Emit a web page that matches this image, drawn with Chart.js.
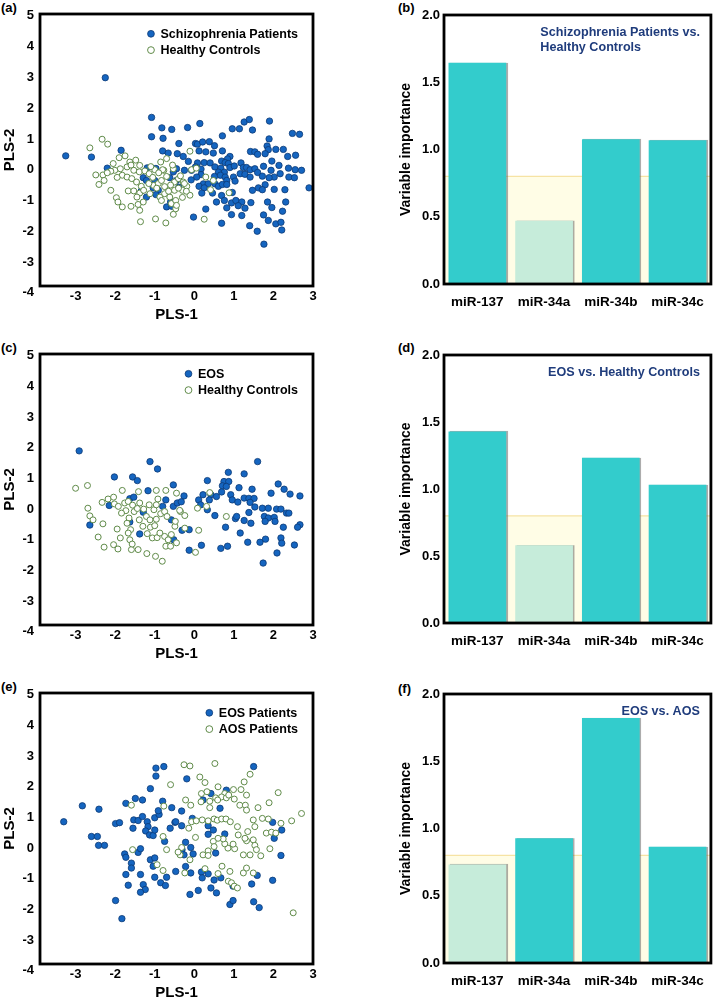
<!DOCTYPE html>
<html>
<head>
<meta charset="utf-8">
<script src="https://cdn.jsdelivr.net/npm/chart.js@4.4.0/dist/chart.umd.min.js"></script>
<style>
body{margin:0;background:#fff;width:714px;height:1000px;position:relative;overflow:hidden;font-family:"Liberation Sans",Arial,sans-serif;}
canvas{position:absolute;}
.panel{position:absolute;font-weight:bold;font-size:13px;color:#000;line-height:15px;}
</style>
</head>
<body>
<div class="panel" style="left:1px;top:0px">(a)</div>
<div class="panel" style="left:398px;top:0px">(b)</div>
<div class="panel" style="left:1px;top:340px">(c)</div>
<div class="panel" style="left:398px;top:340px">(d)</div>
<div class="panel" style="left:1px;top:679px">(e)</div>
<div class="panel" style="left:398px;top:681px">(f)</div>

<canvas id="plsA" width="330" height="330" style="left:0;top:0"></canvas>
<canvas id="vipB" width="374" height="328" style="left:340px;top:0"></canvas>
<canvas id="plsC" width="330" height="329" style="left:0;top:340px"></canvas>
<canvas id="vipD" width="374" height="327" style="left:340px;top:340px"></canvas>
<canvas id="plsE" width="330" height="329" style="left:0;top:679px"></canvas>
<canvas id="vipF" width="374" height="328" style="left:340px;top:679px"></canvas>

<script>
//-------------datos-----------------//
const plsTicksX = [-3,-2,-1,0,1,2,3];
const plsTicksY = [-4,-3,-2,-1,0,1,2,3,4,5];
const vipTicks = [0,0.5,1,1.5,2];
const mirnas = ['miR-137','miR-34a','miR-34b','miR-34c'];
const corteVip = 0.8;

// (b) (d) (f)
const vipSzHc = [1.645, 0.47, 1.076, 1.068];
const vipEosHc = [1.43, 0.58, 1.234, 1.032];
const vipEosAos = [0.733, 0.927, 1.821, 0.864];

const tituloB = ['Schizophrenia Patients vs.','Healthy Controls'];
const tituloD = ['EOS vs. Healthy Controls'];
const tituloF = ['EOS vs. AOS'];

// (a) Schizophrenia Patients / Healthy Controls
const szPacientes = [
[-2.25,2.99],[-3.25,0.45],[-2.60,0.41],[-2.20,0.05],[-1.85,0.63],
[-1.08,1.70],[-0.82,1.36],[-0.57,1.31],[-1.08,1.07],[-0.79,1.02],
[-0.39,0.85],[-0.80,0.61],[-0.66,0.54],[-0.43,0.52],
[-1.19,0.06],[-0.97,0.04],[-0.45,0.03],[-0.53,-0.07],
[-1.29,-0.26],[-1.21,-0.35],[-1.00,-0.35],[-0.62,-0.26],[-0.45,-0.35],
[-1.04,-0.59],[-0.91,-0.67],[-1.34,-0.69],[-1.21,-0.89],[-0.97,-0.81],
[-0.70,-1.21],[-0.57,-1.19],[-0.60,-1.05],
[0.14,1.50],[-0.17,1.37],[1.26,1.55],[1.39,1.63],[1.90,1.58],[0.96,1.33],[1.14,1.33],[1.47,1.29],[0.71,1.10],[2.48,1.18],[2.66,1.15],
[0.03,0.85],[0.08,0.83],[0.21,0.90],[0.38,0.91],[0.51,0.78],[1.89,1.00],[1.84,0.77],[1.87,0.65],[2.06,0.66],[2.25,0.66],[2.56,0.47],[2.36,0.43],[1.42,0.59],[1.53,0.58],[1.60,0.50],
[-0.28,0.43],[0.12,0.61],[0.29,0.58],[0.48,0.54],[0.71,0.61],[0.90,0.43],[0.84,0.35],[0.69,0.28],[0.78,0.23],[0.86,0.20],[1.79,0.52],[1.96,0.28],[2.14,0.14],[2.38,0.05],[2.55,0.00],[2.71,-0.02],
[-0.15,0.27],[0.08,0.22],[0.25,0.23],[0.40,0.22],[0.03,0.09],[0.17,0.02],[-0.25,-0.02],[-0.07,-0.02],[0.17,-0.16],[0.06,-0.24],[-0.08,-0.33],
[0.52,0.09],[0.67,0.05],[0.61,-0.08],[0.76,-0.08],[0.90,0.07],[1.01,0.12],[1.18,0.22],[1.24,0.07],[1.32,0.07],[1.41,0.00],[1.53,0.03],[1.60,-0.09],[1.75,0.11],[1.94,-0.02],[2.02,-0.24],
[0.51,-0.22],[0.66,-0.18],[0.78,-0.24],[0.82,-0.35],[0.99,-0.24],[1.03,-0.37],[1.16,-0.13],[1.28,-0.15],[1.41,-0.24],[1.72,-0.21],[1.89,-0.26],[2.17,-0.13],[2.39,-0.24],[2.53,-0.26],
[0.23,-0.46],[0.35,-0.46],[0.52,-0.46],[0.61,-0.54],[0.71,-0.48],[0.82,-0.48],[0.12,-0.54],[0.25,-0.59],[-0.39,-0.57],
[1.47,-0.67],[1.62,-0.59],[1.79,-0.49],[1.72,-0.65],[2.02,-0.64],[2.29,-0.65],[2.90,-0.59],
[0.19,-0.76],[0.46,-0.76],[0.69,-0.84],[0.96,-0.74],
[0.56,-1.05],[0.76,-1.00],[0.94,-1.08],[1.05,-1.00],[1.20,-1.05],[1.43,-1.07],
[0.29,-1.28],[0.82,-1.24],[1.11,-1.17],[1.28,-1.25],[1.85,-1.05],[1.96,-1.23],[2.31,-1.05],[2.23,-1.35],
[-0.02,-1.54],[0.94,-1.46],[1.20,-1.49],[1.75,-1.47],[1.87,-1.65],[2.06,-1.76],[2.19,-1.71],[2.21,-1.96],
[0.69,-1.74],[1.40,-1.82],[1.59,-2.00],[1.76,-2.42]
];
const szControles = [
[-2.33,0.99],[-2.19,0.83],[-2.64,0.71],[-1.90,0.39],[-2.49,-0.17],[-2.41,-0.48],[-2.31,-0.17],[-2.28,-0.35],[-2.11,-0.67],[-1.97,-0.91],[-1.93,-1.05],[-1.82,-1.21],[-1.60,-1.19],[-1.36,-1.69],[-0.98,-1.60],[-0.72,-1.73],[-1.38,-1.32],[-1.42,-1.13],[-1.29,-1.05],
[-1.48,0.31],[-1.63,0.25],[-1.70,0.09],[-1.87,0.03],[-2.01,-0.02],[-2.11,-0.05],[-1.82,-0.18],[-1.70,-0.24],[-1.58,-0.29],[-1.53,-0.02],[-1.39,-0.07],[-1.38,0.14],[-1.25,-0.04],[-1.14,-0.13],[-1.46,-0.40],[-1.34,-0.54],[-1.67,-0.69],[-1.53,-0.69],[-1.38,-0.76],[-1.28,-0.67],[-1.45,-0.89],[-1.12,-0.78],[-1.03,-0.51],[-0.91,-0.45],[-0.83,-0.35],[-0.70,-0.22],[-0.77,-0.02],[-0.87,-0.89],[-0.75,-0.78],[-0.62,-0.89],[-0.83,-1.00],[-0.58,-1.10],[-0.47,-1.27],[-0.53,-1.45],[-0.70,0.36],[-0.80,0.00],[-0.50,-0.40],[-0.50,-0.67],[-0.47,-1.00],
[-0.11,0.60],[0.25,-1.61],[0.88,-0.75],[0.41,-0.65],[-0.11,-0.83],[-0.53,0.03],
[-0.40,-0.29],[-0.28,-0.40],[-0.19,-0.54],[-0.45,-1.16],[0.29,-0.24],[0.48,-0.35],[-0.30,-0.67],
[-1.00,0.00],[-0.90,-0.10],[-0.60,-0.50],[-0.40,-0.60],[-0.35,-0.20],[-0.25,-0.45],[-1.15,-0.45],[-1.05,-0.25],[-0.95,-0.60],[-0.75,-0.55],[-0.65,-0.70],[-0.30,-0.90],[-0.20,-0.70],
[-2.05,0.20],[-1.75,0.45],[-1.60,0.15],[-1.95,-0.25],[-2.20,-0.10],[-1.10,0.10],[-0.85,0.25],[-0.55,0.15],[-0.07,0.00],[0.05,0.05]
];

// (c) EOS / Healthy Controls
const eosPacientes = [
[-2.91,1.90],[-1.12,1.55],[-0.93,1.31],[-2.02,1.05],[-1.56,1.05],[-1.44,0.93],[-1.17,0.60],[-1.63,0.34],[-1.53,0.39],[-2.15,0.12],[-1.29,-0.10],[-1.63,-0.42],[-2.64,-0.52],[-1.38,-0.81],[-0.72,0.30],[-0.80,0.09],[-0.53,0.09],[-0.58,-0.35],[-0.52,-1.00],[-0.53,0.79],[-0.43,0.20],
[-0.26,0.43],[-0.33,0.24],[-0.31,-0.69],[-0.13,-0.67],[-0.13,-1.34],[0.18,-1.18],[0.11,0.30],[0.16,0.14],[0.33,-0.02],[0.22,0.47],
[1.60,1.55],[0.86,1.20],[1.26,1.15],[0.33,0.93],[0.75,0.90],[0.87,0.90],[0.71,0.76],[0.81,0.74],[1.13,0.70],[1.46,0.65],[2.12,0.82],[2.27,0.65],[2.42,0.49],[2.67,0.43],[1.94,0.52],[0.69,0.56],[0.42,0.47],[0.56,0.41],[0.38,0.30],[0.92,0.47],[0.96,0.30],[1.10,0.23],[1.26,0.36],[1.38,0.35],[1.51,0.35],[1.41,0.22],[1.53,0.07],[1.72,0.03],[1.87,0.03],[2.08,0.00],[2.19,0.00],[2.33,-0.13],[2.39,-0.13],[1.38,-0.11],[1.77,-0.24],[1.87,-0.29],[1.79,-0.40],[2.02,-0.27],[2.04,-0.40],[1.26,-0.37],[1.43,-0.46],[1.04,-0.31],[1.07,-0.24],[0.52,-0.21],[0.79,-0.59],[1.16,-0.78],[2.25,-0.59],[2.67,-0.51],[2.61,-0.59],[1.80,-0.98],[2.19,-0.94],[2.21,-1.11],[1.35,-1.08],[1.66,-1.08],[2.53,-1.17],[2.09,-1.43],[1.74,-1.76],[0.67,-1.28],[0.84,-1.21]
];
const eosControles = [
[-3.00,0.68],[-2.70,0.77],[-2.69,0.03],[-2.64,-0.22],[-2.56,-0.35],[-2.43,-0.91],[-2.31,-0.48],[-2.28,-1.24],[-2.33,0.22],[-2.18,0.33],[-2.04,0.39],[-2.02,0.17],[-1.92,0.09],[-1.82,0.61],[-1.95,-0.65],[-1.87,-0.94],[-2.04,-1.16],[-1.93,-1.30],[-1.63,-1.00],[-1.59,-1.32],[-1.42,-1.32],[-1.20,-1.45],[-0.98,-1.54],[-0.81,-1.70],[-1.57,-1.14],
[-1.76,0.20],[-1.67,0.25],[-1.56,0.13],[-1.73,-0.05],[-1.65,-0.29],[-1.52,-0.08],[-1.44,0.02],[-1.38,0.20],[-1.84,-0.13],[-1.70,-0.46],[-1.61,-0.67],[-1.67,-0.78],[-1.41,0.57],[-1.28,0.00],[-1.14,0.14],[-1.02,-0.02],[-0.96,0.14],[-0.92,0.33],[-0.96,0.61],[-0.72,0.61],
[-1.21,-0.24],[-1.39,-0.35],[-1.30,-0.56],[-1.12,-0.35],[-1.11,-0.59],[-1.00,-0.54],[-0.96,-0.33],[-0.85,-0.15],[-0.75,-0.08],[-0.69,-0.24],[-1.19,-0.80],[-1.06,-0.94],[-0.94,-0.93],[-0.87,-0.78],[-0.75,-0.89],[-0.66,-1.00],[-0.72,-1.21],[-0.60,-1.21],[-0.58,-0.83],[-0.49,-0.56],[-0.45,0.52],
[-0.35,-0.08],[-0.24,-0.21],[-0.48,-0.40],[0.11,-0.69],[0.03,-1.41],[0.08,0.03],[0.39,0.54],[0.31,0.09],[0.81,-0.24],[-0.45,-1.10],[-0.37,-0.04],[-0.24,-0.62]
];

// (e) EOS Patients / AOS Patients
const eosPac2 = [
[-0.97,2.61],[-0.77,2.66],[-0.97,2.35],[-1.11,1.94],[-2.83,1.38],[-2.41,1.27],[-1.73,1.46],[-1.49,1.62],[-1.31,1.57],[-3.30,0.86],[-1.99,0.80],[-1.89,0.83],[-1.53,0.92],[-1.42,0.90],[-1.31,1.03],[-1.19,0.86],[-1.17,0.70],[-1.00,0.99],[-0.89,1.10],[-0.91,1.22],[-1.55,0.65],[-1.23,0.56],[-1.13,0.43],[-1.04,0.41],[-1.00,0.59],[-0.80,1.53],[-0.57,1.32],[-0.61,0.65],[-0.49,0.84],
[-2.60,0.38],[-2.45,0.38],[-2.42,0.09],[-2.27,0.09],[-1.76,-0.19],[-1.73,-0.30],[-1.42,-0.14],[-1.36,-0.02],[-1.59,-0.49],[-1.59,-0.65],[-1.73,-0.86],[-1.36,-0.86],[-1.11,-0.38],[-1.00,-0.32],[-1.04,-0.59],[-1.00,-0.95],[-1.67,-1.21],[-1.29,-1.19],[-1.24,-1.35],[-1.36,-1.44],[-0.85,-1.13],[-0.70,-0.95],[-0.73,-1.22],[-0.75,0.22],[-0.47,-0.76],[-1.99,-1.71],[-1.83,-2.30],
[1.50,2.66],[-0.19,2.26],[0.81,1.89],[0.42,1.78],[0.22,1.57],[0.65,1.30],[-0.32,1.21],[-0.47,0.86],[-0.32,0.73],[-0.05,0.97],[0.35,0.73],[0.48,0.59],[0.35,0.45],[0.77,0.46],[1.98,0.84],[2.21,0.59],[2.02,0.32],[2.19,-0.24],
[-0.22,0.19],[-0.09,0.02],[-0.31,-0.05],[-0.26,-0.22],[-0.03,-0.19],[0.54,-0.16],[-0.22,-0.60],[-0.09,-0.81],[0.18,-0.78],[0.35,-0.84],[0.20,-0.97],[0.50,-1.04],[0.67,-0.97],[0.98,-1.24],[1.45,-1.17],[1.59,-0.89],[1.98,-1.05],
[-0.11,-1.51],[0.10,-1.38],[0.42,-1.30],[0.56,-1.46],[0.90,-1.84],[0.98,-1.71],[1.50,-1.75],[1.64,-1.94]
];
const aosPac = [
[-0.26,2.72],[-0.11,2.68],[0.52,2.76],[0.14,2.32],[0.27,2.14],[1.41,2.41],[1.26,2.16],[0.60,2.00],[2.12,1.81],[0.18,1.78],[0.32,1.84],[0.77,1.78],[0.99,1.91],[1.18,1.91],[1.32,1.73],[0.54,1.64],[0.69,1.67],[0.81,1.64],[0.87,1.73],[0.17,1.51],[0.39,1.53],[0.59,1.57],[0.39,1.32],[1.01,1.60],[1.15,1.40],[1.29,1.40],[1.32,1.24],[1.61,1.32],[1.89,1.48],[-0.22,1.57],[-0.09,1.40],
[2.46,0.89],[2.71,1.13],[2.19,0.81],[1.87,0.95],[1.72,0.97],[1.49,0.92],[1.53,0.70],[1.35,0.54],[1.82,0.49],[1.95,0.52],[2.06,0.49],[1.91,-0.02],[1.32,0.24],[1.49,0.27],[1.53,0.09],[1.57,-0.05],[1.68,-0.25],[1.41,-0.22],[1.24,-0.22],[1.02,-0.02],[0.98,0.13],[0.85,0.00],[0.77,0.14],[0.73,0.30],[0.60,0.32],[0.48,0.22],[0.50,0.05],[0.35,-0.09],[0.22,-0.22],[0.35,-0.24],
[-0.07,0.86],[-0.14,0.65],[0.05,0.89],[0.20,0.92],[0.35,0.89],[0.50,0.95],[0.58,0.91],[0.69,0.95],[0.80,0.95],[0.91,0.86],[1.09,0.70],[1.28,0.32],[1.11,0.43],[0.03,0.35],[-0.32,0.02],[-0.36,-0.22],[-0.11,-0.38],[-0.24,-0.81],[0.27,-0.67],[0.70,-0.59],[0.90,-0.76],[1.24,-0.81],[1.32,-0.65],[1.49,-0.81],[0.60,-0.83],[0.86,-1.08],[0.94,-1.13],[1.01,-1.24],[1.09,-1.30],[2.50,-2.11],
[-0.60,2.07],[-1.59,1.40],[-0.77,1.37],[-0.79,0.38],[-0.70,-0.05],[-1.56,-0.05],[-0.94,-0.54],[-0.79,-0.73],[-0.41,-0.13]
];

//-------------estilos-----------------//
const fuente = '"Liberation Sans", Arial, sans-serif';
Chart.defaults.font.family = fuente;
Chart.defaults.font.weight = 'bold';
Chart.defaults.color = '#000';

const azul = '#1565c0';
const azulBorde = '#0c3a75';
const verde = '#5f8a48';
const turquesa = '#33cccc';
const menta = '#c6ecda';

function aPuntos(arr){
	return arr.map(p => ({x: p[0], y: p[1]}));
}

// marco negro alrededor del area
const marco = {
	id: 'marco',
	afterDraw(chart){
		const a = chart.chartArea, c = chart.ctx;
		c.save();
		c.lineWidth = 2.8;
		c.strokeStyle = '#000';
		c.strokeRect(a.left, a.top, a.right - a.left, a.bottom - a.top);
		c.restore();
	}
};

// leyenda dentro del grafico
const leyenda = {
	id: 'leyenda',
	afterDraw(chart){
		const a = chart.chartArea, c = chart.ctx;
		const sets = chart.data.datasets;
		c.save();
		c.font = 'bold 12.5px ' + fuente;
		let maxW = 0;
		sets.forEach(d => { maxW = Math.max(maxW, c.measureText(d.label).width); });
		const xt = a.right - 15 - maxW;
		sets.forEach((d, i) => {
			const y = a.top + 19.8 + i * 16.3;
			c.beginPath();
			c.arc(xt - 9.5, y, 3.4, 0, Math.PI * 2);
			c.fillStyle = d.backgroundColor;
			c.fill();
			c.lineWidth = d.borderWidth;
			c.strokeStyle = d.borderColor;
			c.stroke();
			c.fillStyle = '#000';
			c.textBaseline = 'middle';
			c.textAlign = 'left';
			c.fillText(d.label, xt, y + 0.5);
		});
		c.restore();
	}
};

// zona amarilla bajo el corte y sombra de barras
const banda = {
	id: 'banda',
	beforeDatasetsDraw(chart){
		const a = chart.chartArea, c = chart.ctx;
		const y = chart.scales.y.getPixelForValue(corteVip);
		c.save();
		c.fillStyle = '#fffde6';
		c.fillRect(a.left, y, a.right - a.left, a.bottom - y);
		c.strokeStyle = '#f6e3a4';
		c.lineWidth = 1.2;
		c.beginPath();
		c.moveTo(a.left, y);
		c.lineTo(a.right, y);
		c.stroke();
		c.restore();
		c.save();
		c.shadowColor = 'rgba(90,90,90,0.5)';
		c.shadowOffsetX = 1.5;
		c.shadowOffsetY = 0;
		c.shadowBlur = 0.6;
	},
	afterDatasetsDraw(chart){
		chart.ctx.restore();
	}
};

const rotulo = {
	id: 'rotulo',
	afterDraw(chart, args, opts){
		const a = chart.chartArea, c = chart.ctx;
		c.save();
		c.font = 'bold 12.6px ' + fuente;
		c.fillStyle = '#1f3c7c';
		c.textBaseline = 'middle';
		c.textAlign = 'left';
		let maxW = 0;
		opts.lineas.forEach(t => { maxW = Math.max(maxW, c.measureText(t).width); });
		const x = a.right - 11 - maxW;
		opts.lineas.forEach((t, i) => {
			c.fillText(t, x, a.top + 17.7 + i * 15);
		});
		c.restore();
	}
};

function crearDispersion(id, pacientes, controles, nombres){
	const ctx = document.getElementById(id).getContext('2d');
	return new Chart(ctx, {
		type: 'scatter',
		data: {
			datasets: [
				{label: nombres[0], data: aPuntos(pacientes), backgroundColor: azul, borderColor: azulBorde, borderWidth: 0.8, pointRadius: 3.2, order: 2},
				{label: nombres[1], data: aPuntos(controles), backgroundColor: '#ffffff', borderColor: verde, borderWidth: 1, pointRadius: 3, order: 1}
			]
		},
		options: {
			responsive: false,
			animation: false,
			events: [],
			layout: {padding: {top: 14, right: 17, left: 0, bottom: 0}},
			plugins: {legend: {display: false}, tooltip: {enabled: false}},
			scales: {
				x: {
					type: 'linear', min: -3.9, max: 3.0,
					afterBuildTicks: s => { s.ticks = plsTicksX.map(v => ({value: v})); },
					afterFit: s => { s.height = 44; },
					grid: {display: false, drawTicks: false},
					border: {display: false},
					ticks: {padding: 3, autoSkip: false, maxRotation: 0, font: {size: 13}, callback: v => String(v)},
					title: {display: true, text: 'PLS-1', font: {size: 15}, padding: {top: 0, bottom: 6}}
				},
				y: {
					type: 'linear', min: -3.78, max: 5.06,
					afterBuildTicks: s => { s.ticks = plsTicksY.map(v => ({value: v})); },
					afterFit: s => { s.width = 40; },
					grid: {display: false, drawTicks: false},
					border: {display: false},
					ticks: {padding: 6, autoSkip: false, font: {size: 13}, callback: v => String(v)},
					title: {display: true, text: 'PLS-2', font: {size: 15}, padding: {top: 1, bottom: 0}}
				}
			}
		},
		plugins: [marco, leyenda]
	});
}

function crearBarras(id, valores, titulo){
	const ctx = document.getElementById(id).getContext('2d');
	return new Chart(ctx, {
		type: 'bar',
		data: {
			labels: mirnas,
			datasets: [{
				data: valores,
				backgroundColor: valores.map(v => v >= corteVip ? turquesa : menta),
				borderWidth: 0,
				barPercentage: 0.865,
				categoryPercentage: 1
			}]
		},
		options: {
			responsive: false,
			animation: false,
			events: [],
			layout: {padding: {top: 15, right: 1.5, left: 0, bottom: 0}},
			plugins: {legend: {display: false}, tooltip: {enabled: false}, rotulo: {lineas: titulo}},
			scales: {
				x: {
					afterFit: s => { s.height = 44; },
					grid: {display: false, drawTicks: false},
					border: {display: false},
					ticks: {padding: 10, font: {size: 13.5}}
				},
				y: {
					min: 0, max: 2,
					afterBuildTicks: s => { s.ticks = vipTicks.map(v => ({value: v})); },
					afterFit: s => { s.width = 104; },
					grid: {display: false, drawTicks: false},
					border: {display: false},
					ticks: {padding: 4, font: {size: 13}, callback: v => Number(v).toFixed(1)},
					title: {display: true, text: 'Variable importance', font: {size: 14}, padding: {top: 58, bottom: 0}}
				}
			}
		},
		plugins: [banda, marco, rotulo]
	});
}

crearDispersion('plsA', szPacientes, szControles, ['Schizophrenia Patients', 'Healthy Controls']);
crearDispersion('plsC', eosPacientes, eosControles, ['EOS', 'Healthy Controls']);
crearDispersion('plsE', eosPac2, aosPac, ['EOS Patients', 'AOS Patients']);
crearBarras('vipB', vipSzHc, tituloB);
crearBarras('vipD', vipEosHc, tituloD);
crearBarras('vipF', vipEosAos, tituloF);
</script>
</body>
</html>
